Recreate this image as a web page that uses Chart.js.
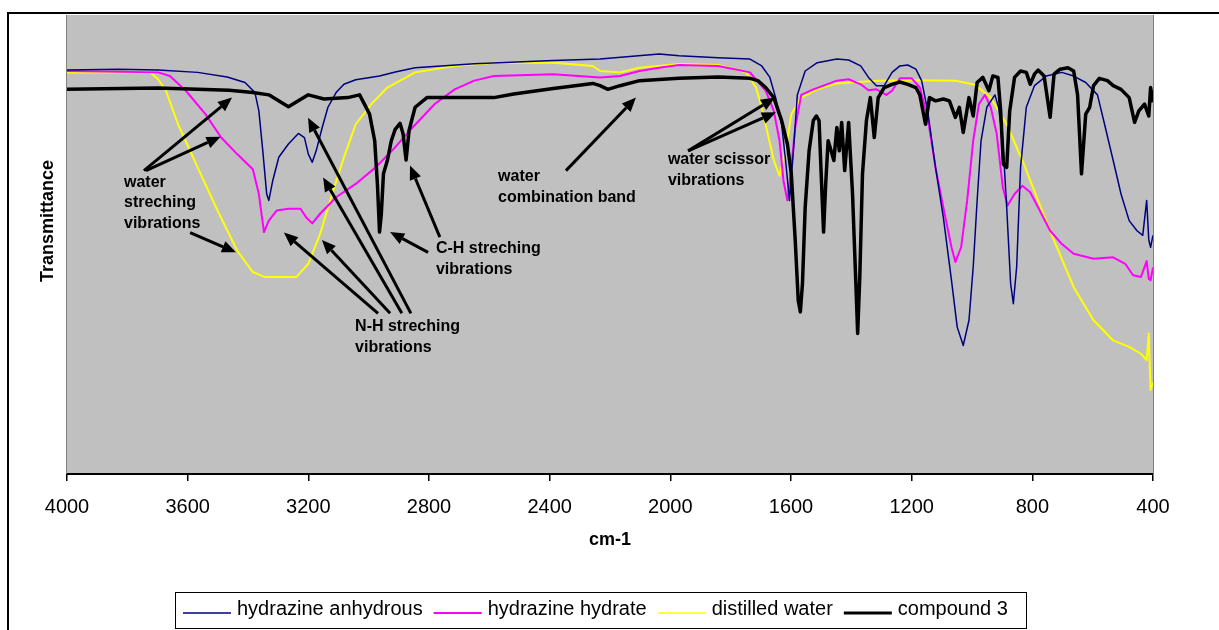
<!DOCTYPE html>
<html>
<head>
<meta charset="utf-8">
<title>IR spectra</title>
<script src="https://cdn.jsdelivr.net/npm/chart.js@4.4.1/dist/chart.umd.min.js"></script>
<style>
  html, body { margin: 0; padding: 0; background: #fff; }
  #wrap { width: 1219px; height: 630px; }
</style>
</head>
<body>
<div id="wrap"><canvas id="spectra" width="1219" height="630"></canvas></div>
<script>
// wavenumbers (cm-1) and transmittance (arbitrary 0-100)
var anhydrousWn = [4000,3830,3698,3567,3469,3410,3377,3364,3351,3338,3331,3318,3298,3266,3233,3213,3200,3187,3174,3154,3135,3108,3082,3043,2964,2912,2846,2650,2388,2233,2037,1971,1841,1736,1697,1670,1651,1631,1618,1605,1592,1579,1553,1513,1448,1409,1369,1343,1317,1291,1265,1239,1213,1186,1167,1147,1121,1095,1068,1049,1029,1010,996,983,970,951,924,912,898,885,872,863,852,839,820,793,754,702,663,623,584,558,532,506,479,453,434,421,414,408,400];
var anhydrousT = [88.0,88.2,88.0,87.5,86.5,85.3,83.1,79.1,70.4,61.0,59.6,63.9,69.0,71.9,74.2,73.3,69.7,67.9,70.4,75.5,79.9,83.1,84.9,85.9,86.7,87.6,88.5,89.4,90.1,90.4,91.5,91.1,90.7,90.4,88.9,86.4,82.0,76.2,68.3,59.6,70.4,82.6,87.8,89.6,90.4,90.2,88.9,86.4,84.6,84.6,87.5,88.9,89.1,88.2,85.7,79.1,66.8,55.9,42.2,32.0,28.0,33.5,45.1,59.6,72.6,79.9,82.6,79.9,72.6,58.1,41.5,37.1,45.1,66.8,79.9,84.6,86.7,87.5,86.7,85.3,82.6,75.5,68.3,61.0,55.2,53.0,52.0,59.6,51.0,49.4,52.0];

var hydrateWn = [4000,3698,3659,3606,3541,3489,3436,3384,3364,3347,3331,3305,3266,3226,3207,3187,3161,3108,3043,2977,2912,2860,2781,2715,2650,2585,2388,2233,2167,2102,2037,1971,1841,1736,1684,1657,1638,1625,1612,1599,1586,1566,1526,1448,1409,1369,1343,1317,1284,1265,1239,1200,1173,1147,1121,1095,1068,1055,1036,1016,996,977,957,938,918,898,882,859,833,807,781,741,702,663,597,532,492,466,440,421,414,408,400];
var hydrateT = [87.8,87.5,86.7,83.5,78.4,73.3,69.7,66.4,61.0,52.7,55.2,57.4,57.8,57.8,55.9,54.6,56.7,60.3,63.2,66.8,71.2,75.1,80.6,83.8,85.7,86.7,87.1,86.4,86.7,87.8,88.5,89.1,88.9,87.5,83.5,79.1,72.6,63.9,59.6,66.8,75.5,82.6,83.8,85.7,86.0,84.9,83.6,83.8,82.6,83.5,86.2,86.2,84.2,77.7,66.8,58.1,49.4,46.2,49.4,59.6,72.6,80.6,82.6,79.9,74.1,62.5,58.5,61.0,62.8,61.4,58.1,53.0,50.1,48.0,46.9,47.2,45.8,43.3,42.9,46.4,42.5,42.2,45.0];

var waterWn = [4000,3724,3698,3672,3632,3567,3501,3436,3384,3344,3240,3200,3161,3121,3082,3043,2991,2938,2846,2715,2585,2388,2257,2233,2167,2102,1971,1841,1749,1716,1697,1677,1657,1638,1618,1599,1566,1513,1448,1317,1186,1055,990,938,885,833,781,728,663,597,532,479,440,421,414,410,408,400];
var waterT = [87.5,87.5,86.0,83.5,76.2,66.8,57.4,48.7,44.0,42.9,42.9,45.8,52.3,61.0,69.0,76.2,80.6,84.2,87.5,88.9,89.6,89.6,88.9,87.8,87.5,88.5,89.3,89.1,87.5,84.2,79.9,74.1,68.3,65.0,70.4,78.4,82.0,83.8,85.1,85.7,85.8,85.7,84.8,82.0,76.2,68.3,59.6,50.9,40.7,33.5,29.1,27.7,26.2,24.8,30.6,22.0,18.3,20.0];

var compoundWn = [4000,3698,3462,3384,3331,3266,3200,3148,3069,3030,2997,2980,2971,2964,2958,2951,2938,2925,2912,2896,2886,2876,2866,2846,2807,2715,2585,2519,2388,2257,2233,2207,2167,2102,1971,1841,1736,1710,1684,1657,1631,1612,1599,1586,1576,1569,1562,1553,1540,1526,1516,1507,1500,1492,1485,1477,1467,1458,1448,1440,1432,1422,1409,1396,1385,1379,1372,1363,1350,1337,1324,1311,1291,1265,1239,1213,1186,1173,1154,1141,1121,1095,1075,1055,1042,1029,1010,996,983,964,944,931,914,905,896,885,875,859,839,820,807,793,781,761,741,728,708,682,663,650,637,623,610,597,578,551,532,506,479,461,447,428,414,408,400];
var compoundT = [83.8,84.1,83.6,83.1,82.6,80.0,82.6,81.7,82.0,82.6,78.4,72.6,63.2,52.7,56.7,65.4,68.3,72.6,75.1,76.4,74.1,68.4,74.9,79.9,82.0,82.0,82.0,82.8,84.0,85.1,84.6,83.8,84.6,85.7,86.2,86.5,86.2,85.7,84.2,82.0,77.0,71.9,65.4,50.9,37.8,35.3,41.5,58.1,70.4,77.0,78.0,77.0,65.4,52.7,63.2,72.6,70.4,68.3,75.5,70.4,76.6,66.1,76.6,61.0,41.5,30.6,42.9,65.4,77.0,82.0,73.3,82.0,84.2,84.9,85.4,84.9,84.2,82.6,76.2,82.0,81.3,81.7,81.3,77.7,79.9,74.4,82.0,78.0,85.3,86.4,83.5,86.7,86.4,79.1,67.5,66.8,79.1,86.4,87.8,87.5,84.9,87.1,88.0,86.7,77.7,87.1,88.2,88.5,87.8,82.6,65.4,78.4,79.9,84.6,86.2,85.7,84.6,83.8,82.0,76.6,79.1,80.6,78.0,84.2,81.0];

var xTicks = [4000,3600,3200,2800,2400,2000,1600,1200,800,400];

// band labels, anchored in (cm-1, transmittance)
var notes = [
  { wn: 3811, t: 63.5, lines: ['water', 'streching', 'vibrations'] },
  { wn: 3045, t: 32.1, lines: ['N-H streching', 'vibrations'] },
  { wn: 2777, t: 49.1, lines: ['C-H streching', 'vibrations'] },
  { wn: 2571, t: 64.7, lines: ['water', 'combination band'] },
  { wn: 2008, t: 68.4, lines: ['water scissor', 'vibrations'] }
];
// arrows: from wn, from t, to wn, to t
var arrows = [
  [3745, 66.1, 3453, 82.0], [3738, 66.1, 3491, 73.5], [3592, 52.6, 3440, 48.3],
  [2969, 35.0, 3281, 52.6], [2929, 35.0, 3155, 51.0], [2890, 35.0, 3151, 64.6], [2860, 35.0, 3201, 77.6],
  [2803, 48.3, 2929, 52.7], [2764, 51.6, 2863, 67.2],
  [2346, 66.1, 2114, 82.0],
  [1941, 70.4, 1653, 82.0], [1941, 70.4, 1650, 78.8]
];

var FONT = '"Liberation Sans", Arial, sans-serif';

function pairs(xs, ys) {
  return xs.map(function (x, i) { return { x: x, y: ys[i] }; });
}

function drawArrow(ctx, x1, y1, x2, y2) {
  var ang = Math.atan2(y2 - y1, x2 - x1);
  var len = 14, half = 6;
  var bx = x2 - len * Math.cos(ang), by = y2 - len * Math.sin(ang);
  ctx.beginPath();
  ctx.moveTo(x1, y1);
  ctx.lineTo(bx, by);
  ctx.stroke();
  ctx.beginPath();
  ctx.moveTo(x2, y2);
  ctx.lineTo(bx + half * Math.sin(ang), by - half * Math.cos(ang));
  ctx.lineTo(bx - half * Math.sin(ang), by + half * Math.cos(ang));
  ctx.closePath();
  ctx.fill();
}

var spectraPlugin = {
  id: 'spectraDecor',
  beforeDraw: function (chart) {
    var ctx = chart.ctx, a = chart.chartArea;
    ctx.save();
    ctx.fillStyle = '#c0c0c0';
    ctx.fillRect(a.left, a.top, a.right - a.left, a.bottom - a.top);
    ctx.restore();
  },
  afterDraw: function (chart) {
    var ctx = chart.ctx, a = chart.chartArea;
    var sx = chart.scales.x, sy = chart.scales.y;
    ctx.save();

    // plot side edges
    ctx.strokeStyle = '#808080';
    ctx.lineWidth = 1;
    ctx.beginPath();
    ctx.moveTo(a.left - 0.5, a.top); ctx.lineTo(a.left - 0.5, a.bottom);
    ctx.moveTo(a.right + 0.5, a.top); ctx.lineTo(a.right + 0.5, a.bottom);
    ctx.stroke();

    // arrows and band labels
    ctx.strokeStyle = '#000';
    ctx.fillStyle = '#000';
    ctx.lineWidth = 3;
    arrows.forEach(function (r) {
      drawArrow(ctx, sx.getPixelForValue(r[0]), sy.getPixelForValue(r[1]),
        sx.getPixelForValue(r[2]), sy.getPixelForValue(r[3]));
    });
    ctx.font = 'bold 16px ' + FONT;
    ctx.textAlign = 'left';
    ctx.textBaseline = 'middle';
    notes.forEach(function (n) {
      var x = sx.getPixelForValue(n.wn), y = sy.getPixelForValue(n.t);
      n.lines.forEach(function (line, i) { ctx.fillText(line, x, y + i * 20.5); });
    });

    // axis titles
    ctx.font = 'bold 18px ' + FONT;
    ctx.textAlign = 'center';
    ctx.fillText('cm-1', (a.left + a.right) / 2, 540);
    ctx.save();
    ctx.translate(48, 221);
    ctx.rotate(-Math.PI / 2);
    ctx.fillText('Transmittance', 0, 0);
    ctx.restore();

    // legend box
    ctx.lineWidth = 1;
    ctx.strokeStyle = '#000';
    ctx.strokeRect(175.5, 592.5, 851, 36);
    ctx.font = '20px ' + FONT;
    ctx.textAlign = 'left';
    ctx.textBaseline = 'alphabetic';
    var lx = 183;
    chart.data.datasets.forEach(function (ds) {
      ctx.strokeStyle = ds.borderColor;
      ctx.lineWidth = ds.legendWidth;
      ctx.beginPath();
      ctx.moveTo(lx, 613); ctx.lineTo(lx + 48, 613);
      ctx.stroke();
      lx += 54;
      ctx.fillText(ds.label, lx, 615);
      lx += ctx.measureText(ds.label).width + 11;
    });

    // outer frame (runs off the right and bottom)
    ctx.strokeStyle = '#000';
    ctx.lineWidth = 2;
    ctx.beginPath();
    ctx.moveTo(8, 631); ctx.lineTo(8, 13); ctx.lineTo(1220, 13);
    ctx.stroke();
    ctx.restore();
  }
};

new Chart(document.getElementById('spectra'), {
  type: 'line',
  data: {
    datasets: [
      { label: 'hydrazine anhydrous', data: pairs(anhydrousWn, anhydrousT), borderColor: '#000080', borderWidth: 1.5, legendWidth: 1.5, order: 1 },
      { label: 'hydrazine hydrate', data: pairs(hydrateWn, hydrateT), borderColor: '#ff00ff', borderWidth: 2, legendWidth: 2, order: 2 },
      { label: 'distilled water', data: pairs(waterWn, waterT), borderColor: '#ffff00', borderWidth: 2, legendWidth: 1.5, order: 3 },
      { label: 'compound 3', data: pairs(compoundWn, compoundT), borderColor: '#000000', borderWidth: 3.5, legendWidth: 3, order: 0 }
    ]
  },
  options: {
    responsive: false,
    animation: false,
    devicePixelRatio: 1,
    layout: { padding: { left: 67, right: 66, top: 15, bottom: 0 } },
    elements: {
      point: { radius: 0 },
      line: { tension: 0, fill: false, borderJoinStyle: 'round' }
    },
    plugins: { legend: { display: false }, tooltip: { enabled: false } },
    scales: {
      x: {
        type: 'linear',
        reverse: true,
        min: 400,
        max: 4000,
        afterBuildTicks: function (s) { s.ticks = xTicks.map(function (v) { return { value: v }; }); },
        afterFit: function (s) { s.height = 156; },
        ticks: {
          font: { family: FONT, size: 20 }, color: '#000', padding: 14, maxRotation: 0, autoSkip: false,
          callback: function (v) { return String(v); }
        },
        grid: { drawOnChartArea: false, drawTicks: true, tickLength: 7, color: '#000', lineWidth: 1.5 },
        border: { display: true, color: '#000', width: 2 }
      },
      y: { display: false, min: 0, max: 100 }
    }
  },
  plugins: [spectraPlugin]
});
</script>
</body>
</html>
